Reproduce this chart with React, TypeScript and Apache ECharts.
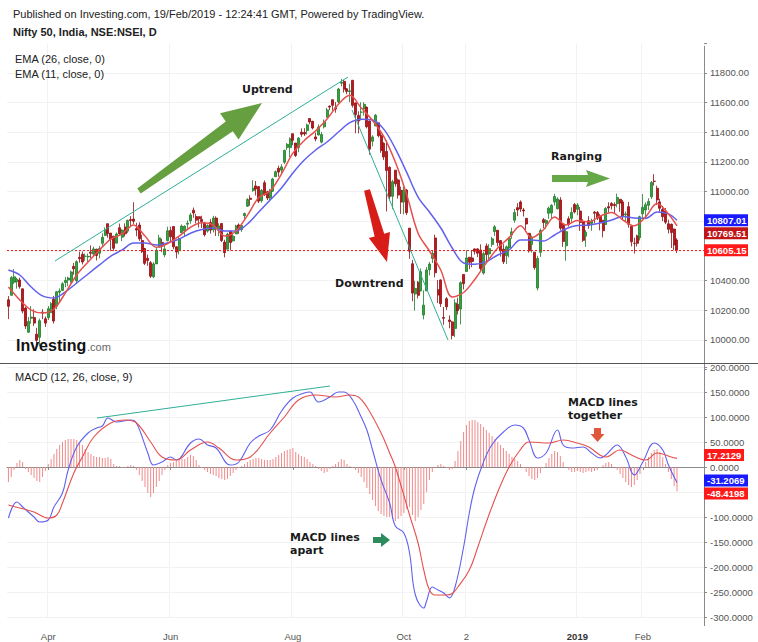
import React, { useEffect, useRef } from 'react';
import * as echarts from 'echarts';

// ---------- DATA ----------
// Daily candles, Nifty 50: [open, close, low, high]
const ohlc: number[][] = [
[10271,10227,10141,10296],[10301,10421,10301,10431],[10390,10426,10377,10478],[10393,10410,10346,10420],
[10405,10360,10346,10420],[10345,10195,10180,10346],[10215,10094,10075,10224],[10052,10124,10049,10155],
[10146,10155,10110,10228],[10152,10114,10094,10207],[10039,9998,9952,10082],[10018,10130,9958,10144],
[10188,10184,10140,10208],[10143,10114,10088,10158],[10151,10211,10135,10229],[10186,10245,10181,10255],
[10274,10128,10111,10297],[10228,10325,10208,10331],[10322,10331,10255,10348],[10334,10379,10333,10390],
[10387,10402,10355,10424],[10404,10418,10362,10427],[10390,10459,10387,10468],[10496,10480,10440,10519],
[10400,10528,10380,10538],[10557,10548,10521,10595],[10578,10526,10509,10596],[10564,10565,10534,10583],
[10560,10564,10527,10583],[10592,10585,10552,10638],[10579,10614,10565,10629],[10612,10570,10536,10615],
[10584,10617,10550,10634],[10652,10692,10635,10719],[10705,10739,10703,10759],[10784,10718,10690,10784],
[10721,10680,10601,10721],[10700,10618,10601,10700],[10653,10715,10653,10725],[10757,10717,10701,10785],
[10693,10741,10666,10746],[10761,10716,10697,10786],[10734,10806,10722,10812],[10812,10806,10763,10835],
[10815,10801,10781,10929],[10751,10741,10699,10790],[10775,10682,10668,10793],[10671,10596,10587,10710],
[10616,10517,10505,10621],[10551,10536,10500,10576],[10521,10430,10418,10533],[10426,10513,10417,10525],
[10513,10605,10513,10628],[10626,10688,10626,10709],[10658,10633,10593,10683],[10574,10614,10558,10636],
[10670,10736,10665,10764],[10739,10696,10660,10764],[10765,10628,10612,10767],[10628,10593,10550,10632],
[10603,10684,10577,10699],[10723,10768,10722,10779],[10736,10767,10697,10773],[10781,10787,10749,10806],
[10804,10843,10784,10856],[10875,10856,10824,10893],[10832,10808,10787,10851],[10831,10818,10758,10834],
[10813,10799,10755,10838],[10789,10710,10698,10796],[10734,10772,10724,10780],[10792,10741,10717,10815],
[10743,10822,10725,10837],[10822,10762,10701,10834],[10742,10769,10699,10787],[10785,10671,10661,10785],
[10660,10589,10557,10676],[10612,10714,10612,10723],[10733,10657,10604,10734],[10668,10700,10664,10726],
[10715,10769,10715,10777],[10776,10749,10716,10786],[10744,10772,10729,10786],[10838,10852,10808,10859],
[10902,10947,10897,10956],[10956,10948,10905,10976],[11007,11023,10999,11078],[11039,11018,10974,11072],
[11034,10936,10923,11035],[10939,11008,10926,11018],[11060,10980,10971,11076],[10999,10957,10943,11007],
[10957,11010,10934,11019],[11003,11085,10999,11093],[11101,11134,11101,11143],[11157,11132,11101,11175],
[11145,11167,11123,11185],[11199,11278,11186,11284],[11297,11319,11281,11328],[11297,11357,11234,11366],
[11391,11346,11313,11391],[11328,11244,11234,11328],[11297,11361,11266,11368],[11401,11387,11370,11427],
[11399,11389,11375,11428],[11412,11450,11385,11459],[11493,11470,11454,11495],[11474,11429,11419,11478],
[11369,11355,11340,11397],[11382,11435,11380,11453],[11334,11385,11325,11402],[11437,11470,11426,11486],
[11502,11551,11499,11565],[11576,11570,11549,11582],[11620,11582,11546,11620],[11566,11557,11532,11604],
[11605,11692,11595,11700],[11731,11738,11710,11760],[11744,11691,11668,11753],[11694,11676,11657,11699],
[11675,11680,11603,11727],[11751,11582,11567,11751],[11598,11520,11394,11602],[11514,11476,11393,11542],
[11536,11536,11480,11603],[11558,11589,11512,11603],[11570,11438,11427,11573],[11476,11287,11250,11479],
[11340,11369,11306,11381],[11443,11515,11443,11524],[11464,11377,11366,11464],[11381,11278,11262,11411],
[11326,11234,11214,11333],[11271,11143,10866,11346],[11164,10967,10943,11170],[10969,11067,10882,11080],
[11145,11053,11033,11145],[11079,10977,10953,11089],[11009,10930,10850,11034],[10930,11008,10847,11035],
[11011,10858,10843,11017],[10754,10599,10547,10755],[10514,10316,10262,10540],[10310,10348,10198,10399],
[10390,10301,10280,10397],[10331,10460,10328,10482],[10169,10235,10139,10335],[10331,10472,10331,10492],
[10474,10512,10435,10526],[10550,10584,10519,10604],[10688,10453,10422,10710],[10339,10303,10249,10404],
[10405,10245,10223,10408],[10152,10146,10103,10222],[10278,10224,10202,10290],[10135,10124,10079,10166],
[10122,10030,10004,10129],[10078,10250,10020,10275],[10240,10198,10172,10285],[10209,10386,10105,10396],
[10442,10380,10341,10442],[10462,10553,10462,10606],[10558,10524,10477,10558],[10553,10530,10491,10600],
[10614,10598,10576,10617],[10614,10585,10559,10619],[10607,10482,10464,10645],[10451,10582,10440,10596],
[10634,10576,10532,10651],[10580,10616,10532,10646],[10644,10682,10627,10695],[10731,10763,10701,10774],
[10740,10657,10631,10740],[10670,10601,10562,10671],[10612,10527,10512,10646],[10568,10628,10513,10637],
[10621,10686,10557,10695],[10708,10729,10682,10757],[10808,10859,10790,10883],[10892,10877,10835,10922],
[10930,10883,10863,10941],[10877,10870,10833,10890],[10820,10782,10732,10821],[10719,10601,10589,10722],
[10644,10694,10589,10704],[10592,10488,10474,10593],[10350,10550,10334,10567],[10591,10738,10559,10752],
[10811,10792,10754,10822],[10785,10805,10749,10815],[10854,10889,10817,10900],[10856,10908,10818,10915],
[10930,10967,10907,10985],[10885,10951,10880,10962],[10944,10754,10738,10963],[10781,10664,10628,10782],
[10635,10730,10534,10747],[10817,10779,10765,10834],[10820,10860,10797,10894],[10913,10863,10853,10924],
[10881,10910,10841,10923],[10869,10792,10735,10896],[10796,10672,10661,10814],[10700,10727,10628,10741],
[10804,10772,10750,10835],[10786,10802,10736,10818],[10862,10855,10787,10870],[10859,10821,10809,10870],
[10834,10795,10739,10850],[10807,10737,10692,10808],[10778,10887,10778,10896],[10899,10890,10860,10929],
[10920,10905,10880,10930],[10914,10907,10853,10928],[10919,10961,10894,10987],[10949,10923,10864,10949],
[10931,10831,10815,10944],[10844,10850,10797,10866],[10899,10780,10757,10931],[10767,10662,10631,10767],
[10653,10652,10583,10690],[10702,10652,10630,10710],[10690,10831,10671,10838],[10851,10894,10813,10984],
[10876,10912,10814,10928],[10908,10934,10876,10956],[10965,11062,10951,11072],[11071,11069,11041,11118],
[11023,10944,10910,11041],[10931,10888,10865,10952],[10880,10831,10802,10905],[10870,10794,10781,10890],
[10783,10746,10718,10811],[10780,10724,10620,10785],[10748,10641,10605,10752],[10674,10605.15,10586,10686]
];

// EMA lines: [bar index, value]
const ema26: number[][] = [
[0,10472],[4,10438],[8,10357],[12,10297],[16,10283],[20,10324],[24,10384],[28,10445],[32,10506],[36,10566],
[40,10607],[44,10654],[48,10654],[52,10640],[56,10655],[60,10680],[64,10720],[68,10745],[72,10755],[76,10735],
[80,10735],[84,10782],[88,10863],[92,10944],[96,11025],[100,11126],[104,11213],[108,11281],[112,11335],[116,11402],
[120,11465],[124,11488],[128,11483],[132,11420],[136,11290],[140,11130],[144,10964],[148,10863],[152,10755],[156,10620],
[160,10519],[164,10510],[168,10528],[172,10573],[176,10607],[180,10674],[184,10674],[188,10667],[192,10708],[196,10750],
[200,10772],[204,10775],[208,10789],[212,10809],[216,10832],[220,10822],[224,10820],[228,10863],[232,10850],[235,10807.01]
];
const ema11: number[][] = [
[0,10357],[4,10270],[8,10202],[12,10182],[16,10209],[20,10317],[24,10438],[28,10526],[32,10607],[36,10680],
[40,10715],[44,10775],[48,10701],[52,10625],[56,10650],[60,10700],[64,10760],[68,10790],[72,10775],[76,10701],
[80,10735],[84,10840],[88,10960],[92,11005],[96,11120],[100,11260],[104,11345],[108,11410],[112,11490],[116,11590],
[120,11650],[124,11565],[128,11480],[132,11370],[136,11200],[140,10980],[144,10720],[148,10600],[152,10470],[156,10290],
[160,10320],[164,10410],[168,10520],[172,10620],[176,10690],[180,10770],[184,10690],[188,10742],[192,10829],[196,10775],
[200,10805],[204,10796],[208,10836],[212,10860],[216,10809],[220,10770],[224,10830],[228,10920],[232,10850],[235,10769.51]
];

// MACD (12, 26, close, 9): [bar index, value]
const macdLine: number[][] = [
[0,-102],[3,-70],[5,-80],[9,-100],[11,-110],[14,-106],[16,-80],[19,-52],[21,-6],[24,40],[28,68],[31,78],[33,82],
[35,98],[38,90],[43,94],[45,88],[49,28],[51,4],[54,10],[57,20],[59,14],[64,48],[67,56],[70,44],[73,38],[78,4],
[81,10],[85,48],[88,62],[92,74],[96,112],[100,138],[104,148],[106,150],[109,130],[113,140],[116,150],[118,150],
[121,134],[124,100],[126,74],[128,34],[131,-26],[134,-72],[136,-118],[139,-132],[141,-172],[143,-255],[146,-282],
[147,-268],[149,-240],[151,-246],[153,-252],[155,-262],[157,-240],[160,-160],[162,-92],[164,-40],[167,10],[170,45],
[174,70],[178,84],[181,78],[183,54],[186,18],[189,28],[193,74],[195,44],[198,38],[202,40],[205,28],[208,18],[210,24],
[214,44],[217,20],[220,-16],[223,10],[227,48],[230,34],[232,4],[235,-31.2069]
];
const signalLine: number[][] = [
[0,-76],[4,-82],[9,-90],[14,-102],[17,-96],[19,-72],[23,-12],[26,20],[30,60],[36,88],[41,94],[45,88],[50,50],
[54,20],[59,14],[64,34],[70,50],[74,38],[80,14],[85,20],[92,68],[97,100],[102,134],[108,144],[115,140],[120,144],
[123,140],[126,120],[131,68],[134,28],[136,0],[141,-96],[144,-152],[146,-206],[148,-246],[150,-256],[154,-256],
[156,-253],[158,-240],[162,-206],[165,-160],[168,-110],[172,-50],[176,0],[180,35],[183,50],[190,48],[195,54],
[200,48],[204,40],[210,20],[215,34],[219,24],[224,14],[228,28],[233,20],[235,17.2129]
];
const histogram: number[] = [
-30,-20,-6,8,14,10,-4,-10,-16,-22,-28,-30,-20,-8,6,16,26,36,44,50,
54,56,56,56,54,50,44,36,30,26,22,20,20,18,18,20,16,6,2,2,
-2,-2,2,4,2,-6,-16,-28,-40,-52,-60,-52,-40,-28,-16,-6,4,8,10,12,
14,16,16,20,24,22,14,4,-2,-6,-10,-14,-16,-18,-22,-24,-26,-24,-18,-12,
-6,-2,2,6,10,14,16,18,18,16,14,14,14,16,20,24,28,32,34,36,
38,30,26,22,20,16,10,6,2,-4,-8,-12,-10,-4,2,6,10,16,14,6,
2,-2,-6,-12,-20,-30,-42,-54,-66,-78,-88,-94,-98,-100,-100,-104,-108,-104,-98,-92,
-84,-80,-96,-108,-100,-86,-74,-50,-26,-10,-2,4,6,2,-2,-6,-4,12,32,52,
70,84,92,94,94,90,86,80,74,68,62,56,50,44,38,32,26,20,16,12,
6,-2,-10,-18,-24,-26,-22,-12,-2,8,18,26,32,30,22,10,0,-6,-10,-10,
-8,-10,-12,-10,-8,-10,-8,-6,-2,4,8,10,6,0,-6,-14,-22,-30,-36,-40,
-36,-26,-14,-2,10,20,28,34,36,30,20,6,-10,-24,-38,-48.4198
];

const monthTicks: [number, string][] = [
  [14, 'Apr'], [57, 'Jun'], [100, 'Aug'], [139, 'Oct'], [161, '2'], [200, '2019'], [223, 'Feb'],
];
const boldTickLabels = ['2019'];

const lastClose = 10605.15;
const lastEma26 = 10807.01;
const lastEma11 = 10769.51;
const lastMacd = -31.2069;
const lastSignal = 17.2129;
const lastHist = -48.4198;

const SLOTS = 245;

// ---------- STYLE ----------
const FONT = '"Liberation Sans", Arial, sans-serif';
const VFONT = '"DejaVu Sans", Verdana, sans-serif';
const NOTE = 'bold 11px ' + VFONT;
const UP = '#35a33f';
const UP_B = '#1f7a2a';
const DOWN = '#c3161c';
const DOWN_B = '#8a0f12';
const BLUE = '#6161ee';
const RED = '#e5504e';
const TEAL = '#2fae98';
const GRID = '#f2f2f2';
const AXIS = '#8a8a8a';

function txt(x: number, y: number, text: string, font: string, fill: string) {
  return {
    type: 'text', z: 100, silent: true,
    style: { x, y, text, font, fill, textAlign: 'left', align: 'left', textVerticalAlign: 'middle', verticalAlign: 'middle' },
  };
}
function poly(points: number[][], fill: string) {
  return { type: 'polygon', z: 90, silent: true, shape: { points }, style: { fill } };
}
function seg(x1: number, y1: number, x2: number, y2: number, stroke: string, w = 1, z = 90) {
  return { type: 'line', z, silent: true, shape: { x1, y1, x2, y2 }, style: { stroke, lineWidth: w } };
}

export default function App() {
  const ref = useRef<HTMLDivElement>(null);
  useEffect(() => {
    const el = ref.current;
    if (!el) return;
    const chart = echarts.init(el, undefined, { renderer: 'svg' });
    const categories = Array.from({ length: SLOTS }, (_, i) => String(i));
    const tickMap = new Map<number, string>(monthTicks);
    const isTick = (idx: number) => tickMap.has(idx);

    // tick labels hidden behind the last-value boxes (as in the reference)
    const mainLast = [lastClose, lastEma26, lastEma11];
    const macdLast = [lastMacd, lastHist];
    const hideMain = (v: number) => mainLast.some((b) => Math.abs(v - b) < 50);
    const hideMacd = (v: number) => macdLast.some((b) => Math.abs(v - b) < 5);

    const gridLeft = 7;
    const gridWidth = 697;

    const option: any = {
      animation: false,
      backgroundColor: '#ffffff',
      grid: [
        { left: gridLeft, width: gridWidth, top: 43.33, height: 326.33 },
        { left: gridLeft, width: gridWidth, top: 367, height: 250 },
      ],
      xAxis: [
        {
          type: 'category', gridIndex: 0, data: categories, boundaryGap: true,
          axisLine: { show: false }, axisTick: { show: false }, axisLabel: { show: false },
          splitLine: { show: true, interval: (i: number) => isTick(i), lineStyle: { color: GRID } },
        },
        {
          type: 'category', gridIndex: 1, data: categories, boundaryGap: true, offset: 9,
          axisLine: { show: true, lineStyle: { color: AXIS } },
          axisTick: { show: true, alignWithLabel: true, interval: (i: number) => isTick(i), length: 3, lineStyle: { color: AXIS } },
          axisLabel: {
            interval: (i: number) => isTick(i), margin: 5, fontSize: 9.5, color: '#555', fontFamily: FONT,
            formatter: (_v: string, i: number) => {
              const s = tickMap.get(i) || '';
              return boldTickLabels.includes(s) ? '{b|' + s + '}' : s;
            },
            rich: { b: { fontWeight: 'bold', fontSize: 9.5, color: '#333', fontFamily: FONT } },
          },
          splitLine: { show: true, interval: (i: number) => isTick(i), lineStyle: { color: GRID } },
        },
      ],
      yAxis: [
        {
          type: 'value', gridIndex: 0, position: 'right', min: 9800, max: 12000, interval: 200,
          axisLine: { show: false },
          axisTick: { show: true, length: 3, lineStyle: { color: AXIS } },
          axisLabel: {
            margin: 6, fontSize: 9.5, color: '#555', fontFamily: FONT,
            formatter: (v: number) => (v < 10000 || v > 11800 || hideMain(v) ? '' : v.toFixed(2)),
          },
          splitLine: { show: true, showMinLine: false, showMaxLine: false, lineStyle: { color: GRID } },
        },
        {
          type: 'value', gridIndex: 1, position: 'right', min: -300, max: 200, interval: 50,
          axisLine: { show: false },
          axisTick: { show: true, length: 3, lineStyle: { color: AXIS } },
          axisLabel: {
            margin: 6, fontSize: 9.5, color: '#555', fontFamily: FONT,
            formatter: (v: number) => (hideMacd(v) ? '' : v.toFixed(4)),
          },
          splitLine: { show: true, lineStyle: { color: GRID } },
        },
      ],
      series: [
        {
          type: 'candlestick', xAxisIndex: 0, yAxisIndex: 0, data: ohlc, barWidth: 2.5, z: 3,
          itemStyle: { color: UP, color0: DOWN, borderColor: UP_B, borderColor0: DOWN_B, borderWidth: 0.8 },
          markLine: {
            silent: true, symbol: 'none', label: { show: false },
            lineStyle: { color: '#ff1a1a', type: [2, 2], width: 1 },
            data: [{ yAxis: lastClose }],
          },
        },
        {
          type: 'line', xAxisIndex: 0, yAxisIndex: 0, data: ema26, showSymbol: false, smooth: 0.35, z: 4,
          lineStyle: { color: BLUE, width: 1.5 },
        },
        {
          type: 'line', xAxisIndex: 0, yAxisIndex: 0, data: ema11, showSymbol: false, smooth: 0.35, z: 4,
          lineStyle: { color: RED, width: 1.5 },
        },
        {
          type: 'bar', xAxisIndex: 1, yAxisIndex: 1, data: histogram, barWidth: 1, z: 2,
          itemStyle: { color: '#f08a8a' },
        },
        {
          type: 'line', xAxisIndex: 1, yAxisIndex: 1, data: macdLine, showSymbol: false, smooth: 0.4, z: 4,
          lineStyle: { color: BLUE, width: 1.1 },
        },
        {
          type: 'line', xAxisIndex: 1, yAxisIndex: 1, data: signalLine, showSymbol: false, smooth: 0.4, z: 4,
          lineStyle: { color: RED, width: 1.1 },
        },
      ],
    };
    chart.setOption(option);

    // value boxes on the right axis, placed through the axis scales
    const py = (axis: number, v: number) => chart.convertToPixel({ yAxisIndex: axis }, v) as unknown as number;
    const boxH = 12;
    const labelHalf = 6; // half height of a 9.5px tick label
    type Box = { v: number; axis: number; text: string; bg: string; w: number; y?: number };

    // keep boxes clear of the visible tick labels of their axis
    const clearOf = (axis: number, y: number, visible: number[]) => {
      let out = y;
      visible.forEach((v) => {
        const ly = py(axis, v);
        const minGap = labelHalf + boxH / 2;
        if (Math.abs(out - ly) < minGap) out = out < ly ? ly - minGap : ly + minGap;
      });
      return out;
    };

    const mainBoxes: Box[] = [
      { v: lastEma26, axis: 0, text: lastEma26.toFixed(2), bg: '#1a1aff', w: 44 },
      { v: lastEma11, axis: 0, text: lastEma11.toFixed(2), bg: '#c0161a', w: 44 },
      { v: lastClose, axis: 0, text: lastClose.toFixed(2), bg: '#ff1a1a', w: 44 },
    ];
    mainBoxes.forEach((b) => (b.y = py(b.axis, b.v)));
    mainBoxes.sort((a, b) => (a.y as number) - (b.y as number));
    for (let i = 1; i < mainBoxes.length; i++) {
      const prev = mainBoxes[i - 1].y as number;
      if ((mainBoxes[i].y as number) < prev + boxH + 1) mainBoxes[i].y = prev + boxH + 1;
    }

    const macdVisible = [-300, -250, -200, -150, -100, -50, 0, 50, 100, 150, 200].filter((v) => !hideMacd(v));
    const macdBoxes: Box[] = [
      { v: lastSignal, axis: 1, text: lastSignal.toFixed(4), bg: '#ff1a1a', w: 40 },
      { v: lastMacd, axis: 1, text: lastMacd.toFixed(4), bg: '#1a1aff', w: 44 },
      { v: lastHist, axis: 1, text: lastHist.toFixed(4), bg: '#ff1a1a', w: 44 },
    ];
    macdBoxes.forEach((b) => (b.y = py(b.axis, b.v)));
    macdBoxes.sort((a, b) => (a.y as number) - (b.y as number));
    for (let i = 1; i < macdBoxes.length; i++) {
      const a = macdBoxes[i - 1];
      const b = macdBoxes[i];
      const gap = (b.y as number) - (a.y as number);
      if (gap < boxH + 1) {
        const m = ((a.y as number) + (b.y as number)) / 2;
        a.y = m - (boxH + 1) / 2;
        b.y = m + (boxH + 1) / 2;
      }
    }
    macdBoxes.forEach((b) => (b.y = clearOf(1, b.y as number, macdVisible)));

    const boxEls: any[] = [];
    [...mainBoxes, ...macdBoxes].forEach((b) => {
      const y = b.y as number;
      boxEls.push({ type: 'rect', z: 110, silent: true, shape: { x: 704, y: y - boxH / 2, width: b.w, height: boxH }, style: { fill: b.bg } });
      boxEls.push({
        type: 'text', z: 111, silent: true,
        style: { x: 707, y: y + 0.5, text: b.text, font: 'bold 9.5px ' + FONT, fill: '#ffffff', textAlign: 'left', align: 'left', textVerticalAlign: 'middle', verticalAlign: 'middle' },
      });
    });

    const graphics: any[] = [
      // frame lines
      seg(704.5, 46, 704.5, 626, AXIS, 1, 80),
      seg(0, 363.5, 758, 363.5, '#555555', 1, 80),
      // header texts
      txt(13, 14, 'Published on Investing.com, 19/Feb/2019 - 12:24:41 GMT, Powered by TradingView.', '11px ' + FONT, '#222'),
      txt(13, 32, 'Nifty 50, India, NSE:NSEI, D', 'bold 11px ' + FONT, '#222'),
      txt(15, 59, 'EMA (26, close, 0)', '11px ' + FONT, '#222'),
      txt(15, 74, 'EMA (11, close, 0)', '11px ' + FONT, '#222'),
      txt(15, 377, 'MACD (12, 26, close, 9)', '11px ' + FONT, '#222'),
      // logo
      txt(16, 345, 'Investing', 'bold 16px ' + FONT, '#111'),
      txt(87, 347, '.com', '11px ' + FONT, '#666'),
      // trend lines
      seg(55, 261, 348, 77, TEAL, 1),
      seg(352, 110, 448, 340, TEAL, 1),
      seg(97, 418, 330, 386, TEAL, 1),
      // annotations
      txt(242, 89, 'Uptrend', NOTE, '#1a1a1a'),
      poly([[137.3, 188.5], [140.7, 193.5], [232.8, 131.2], [238.6, 139.4], [262, 103], [220, 113.2], [225.8, 121.4]], '#659f3f'),
      txt(335, 283, 'Downtrend', NOTE, '#1a1a1a'),
      poly([[369.9, 189.2], [384.2, 233.7], [390, 232.1], [387, 262], [368.8, 238.1], [374.6, 236.5], [364.1, 190.8]], '#d81c17'),
      txt(551, 156, 'Ranging', NOTE, '#1a1a1a'),
      poly([[552, 175], [588, 175], [586, 170], [610, 178.5], [586, 187], [588, 182], [552, 182]], '#64a848'),
      txt(568, 402.5, 'MACD lines', NOTE, '#1a1a1a'),
      txt(568, 415.5, 'together', NOTE, '#1a1a1a'),
      poly([[594, 428], [601, 428], [601, 434], [604.5, 434], [597.5, 442], [590.5, 434], [594, 434]], '#e0583c'),
      txt(290, 537.5, 'MACD lines', NOTE, '#1a1a1a'),
      txt(290, 550.5, 'apart', NOTE, '#1a1a1a'),
      poly([[373, 537], [381, 537], [381, 533], [390, 540], [381, 547], [381, 543], [373, 543]], '#2e8b5e'),
      ...boxEls,
    ];
    chart.setOption({ graphic: { elements: graphics } });

    return () => chart.dispose();
  }, []);
  return <div ref={ref} style={{ position: 'absolute', left: 0, top: 0, width: 758, height: 642, background: '#fff' }} />;
}
